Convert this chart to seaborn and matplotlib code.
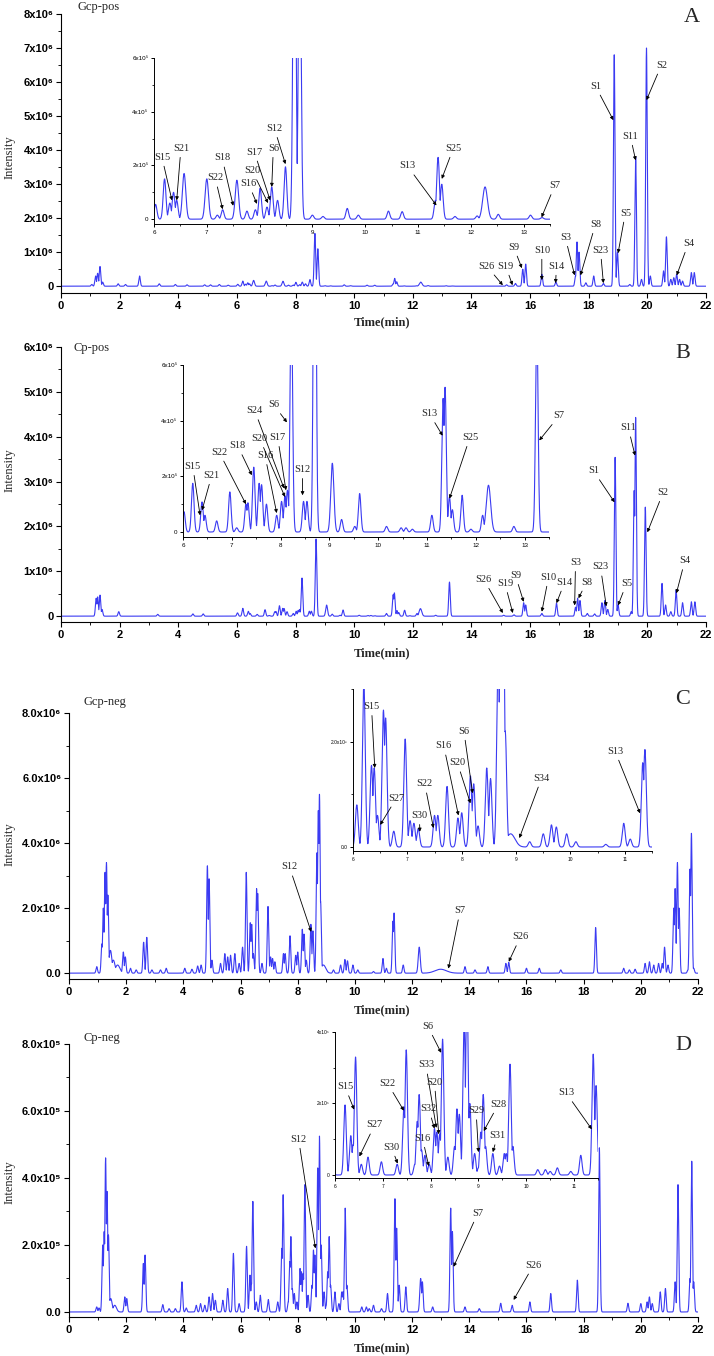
import numpy as np
import matplotlib
matplotlib.use("Agg")
import matplotlib.pyplot as plt
import seaborn as sns
from matplotlib.ticker import MultipleLocator, FixedLocator

sns.set_style("ticks")
plt.rcParams["font.family"] = ["Liberation Sans", "DejaVu Sans"]
SERIF = ["Liberation Serif", "DejaVu Serif"]
BLUE = "#3b3bf2"
W, H = 714, 1356

# ---- peak tables: retention time (min) / apex intensity ----
# A  Gcp-pos  (x1e6)
gcp_pos_rt = [1.05, 1.18, 1.25, 1.33, 1.42, 1.95, 2.2, 2.68, 3.35, 3.9, 4.3, 4.9, 5.1, 5.4, 5.7,
              6.03, 6.2, 6.3, 6.37, 6.43, 6.57, 7.0, 7.2, 7.3, 7.57, 7.76, 7.92, 8.01, 8.14, 8.23, 8.34,
              8.49, 8.66, 8.76, 9.0, 9.2, 9.66, 9.87, 10.44, 10.7, 11.33, 11.38, 11.45, 11.7, 12.12,
              12.27, 12.52, 13.13, 13.35,
              15.2, 15.5, 15.75, 15.85, 16.4, 16.88, 17.55, 17.6, 17.67, 17.9, 18.17, 18.5, 18.87,
              18.98, 19.4, 19.6, 19.8, 19.97, 20.1, 20.55, 20.65, 20.8, 20.9, 21.0, 21.1, 21.2, 21.5, 21.6]
gcp_pos_int = [0.05, 0.3, 0.38, 0.58, 0.12, 0.07, 0.05, 0.3, 0.07, 0.05, 0.04, 0.04, 0.04, 0.05, 0.03,
               0.055, 0.15, 0.06, 0.1, 0.07, 0.17, 0.15, 0.015, 0.035, 0.145, 0.03, 0.035, 0.115, 0.045,
               0.12, 0.07, 0.195, 1.55, 1.1, 0.015, 0.01, 0.04, 0.015, 0.03, 0.028, 0.07, 0.23, 0.13,
               0.01, 0.012, 0.12, 0.018, 0.015, 0.006,
               0.04, 0.08, 0.5, 0.65, 0.35, 0.12, 0.3, 1.3, 1.0, 0.1, 0.3, 0.08, 6.8, 1.0, 0.05, 3.8,
               0.2, 7.0, 0.3, 0.45, 1.45, 0.2, 0.25, 0.35, 0.2, 0.15, 0.4, 0.4]
gcp_pos_broad = {12.27: 0.045, 6.57: 0.032, 7.0: 0.032, 7.57: 0.032}

# B  Cp-pos  (x1e6)
cp_pos_rt = [1.2, 1.25, 1.33, 1.4, 1.97, 3.3, 4.5, 4.85,
             6.02, 6.2, 6.39, 6.45, 6.69, 6.96, 7.1, 7.29, 7.33, 7.45, 7.56, 7.61, 7.71, 7.92, 8.02,
             8.09, 8.14, 8.22, 8.47, 8.54, 8.7, 9.06, 9.25, 9.52, 9.62, 10.17, 10.47, 10.57, 10.7, 11.1,
             11.33, 11.37, 11.46, 11.52, 11.72, 11.9, 12.14, 12.26, 12.78, 13.25,
             15.1, 15.45, 15.78, 15.85, 16.4, 16.9, 17.55, 17.62, 17.7, 17.95, 18.2, 18.45, 18.55,
             18.65, 18.9, 19.0, 19.45, 19.55, 19.6, 19.93, 20.5, 20.62, 20.8, 20.98, 21.2, 21.5, 21.62]
cp_pos_int = [0.4, 0.43, 0.47, 0.15, 0.1, 0.04, 0.05, 0.05,
              0.073, 0.175, 0.108, 0.06, 0.04, 0.144, 0.015, 0.1, 0.105, 0.233, 0.175, 0.17, 0.1, 0.06,
              0.11, 0.13, 0.15, 0.85, 0.11, 0.11, 1.72, 0.247, 0.045, 0.02, 0.138, 0.02, 0.015, 0.015,
              0.01, 0.06, 0.48, 0.52, 0.125, 0.08, 0.132, 0.01, 0.06, 0.168, 0.02, 0.76,
              0.02, 0.03, 0.3, 0.25, 0.06, 0.29, 0.2, 0.4, 0.35, 0.06, 0.05, 0.3, 0.35, 0.15, 3.54,
              0.25, 0.1, 2.8, 4.43, 2.43, 0.73, 0.25, 0.1, 0.58, 0.3, 0.32, 0.32]
cp_pos_broad = {12.26: 0.045, 9.06: 0.032}

# C  Gcp-neg  (x1e6)
gcp_neg_rt = [0.97, 1.15, 1.2, 1.26, 1.31, 1.36, 1.45, 1.55, 1.7, 1.9, 1.97, 2.15, 2.35, 2.61, 2.72,
              2.9, 3.2, 3.4, 4.05, 4.3, 4.5, 4.62, 4.84, 4.9, 5.0, 5.3, 5.45, 5.55, 5.65, 5.8, 5.95,
              6.07, 6.2, 6.34, 6.39, 6.45, 6.56, 6.6, 6.75, 6.96, 7.05, 7.12, 7.2, 7.5, 7.56, 7.73, 7.93,
              8.0, 8.16, 8.22, 8.3, 8.46, 8.53, 8.67, 8.72, 8.76, 8.8, 8.9, 9.25, 9.5, 9.65, 9.74, 9.93,
              10.1, 10.65, 10.98, 11.1, 11.33, 11.37, 11.69, 12.25, 13.0, 13.85, 14.2, 14.65, 15.28,
              15.38, 16.0, 16.45, 17.2, 18.42, 19.4, 19.6, 19.8, 20.15, 20.3, 20.45, 20.62, 20.75,
              20.83, 20.95, 21.15, 21.2, 21.28, 21.34, 21.65, 21.72, 21.77, 21.85]
gcp_neg_int = [0.2, 0.9, 2.0, 3.1, 3.4, 2.4, 0.7, 0.4, 0.25, 0.65, 0.5, 0.15, 0.1, 0.95, 1.1,
               0.1, 0.1, 0.15, 0.15, 0.12, 0.22, 0.25, 3.3, 2.9, 0.4, 0.3, 0.6, 0.5, 0.55, 0.6, 0.3,
               0.8, 3.1, 1.55, 1.5, 0.6, 2.6, 2.45, 0.3, 2.05, 0.5, 0.45, 0.35, 0.6, 0.6, 1.15, 0.55,
               0.65, 1.35, 1.2, 0.4, 1.5, 1.3, 3.7, 5.0, 5.5, 2.2, 0.25, 0.1, 0.25, 0.42, 0.38, 0.25,
               0.1, 0.05, 0.45, 0.15, 1.6, 1.85, 0.25, 0.8, 0.12, 0.2, 0.1, 0.2, 0.3,
               0.33, 0.15, 0.15, 0.1, 1.4, 0.15, 0.1, 0.12, 0.3, 0.35, 0.25, 0.3, 0.3,
               0.8, 0.25, 2.0, 2.6, 3.4, 2.0, 0.1, 3.2, 4.3, 0.15]
gcp_neg_broad = {1.45: 0.05, 1.55: 0.06, 1.7: 0.08, 8.9: 0.08, 12.25: 0.035, 13.0: 0.2}

# D  Cp-neg  (x1e5)
cp_neg_rt = [0.97, 1.05, 1.18, 1.23, 1.28, 1.33, 1.38, 1.46, 1.6, 1.95, 2.02, 2.6, 2.66, 3.28, 3.5,
             3.72, 3.95, 4.1, 4.45, 4.6, 4.75, 4.9, 5.02, 5.12, 5.38, 5.55, 5.75, 5.95,
             6.21, 6.33, 6.38, 6.43, 6.55, 6.69, 6.97, 7.3, 7.44, 7.49, 7.67, 7.72, 7.76, 7.81, 7.88,
             7.97, 8.08, 8.13, 8.19, 8.25, 8.36, 8.5, 8.55, 8.6, 8.7, 8.76, 8.82, 8.92, 9.0, 9.05, 9.1,
             9.15, 9.3, 9.44, 9.54, 9.58, 9.66, 9.72, 10.24, 10.4, 10.5, 10.65, 10.93, 11.14, 11.4,
             11.46, 11.55, 11.78, 12.3, 12.36, 12.72, 13.35, 13.41, 13.85, 14.35, 15.1, 15.5, 16.12,
             16.85, 17.78, 18.55, 19.55, 20.0, 20.22, 20.3, 20.4, 20.68, 20.86, 21.2, 21.3, 21.72,
             21.78, 21.85]
cp_neg_int = [0.15, 0.12, 2.0, 2.4, 4.6, 3.6, 2.3, 0.4, 0.2, 0.45, 0.4, 1.45, 1.7, 0.22, 0.1,
              0.1, 0.9, 0.12, 0.2, 0.25, 0.2, 0.45, 0.55, 0.35, 0.35, 0.7, 1.75, 0.25,
              1.96, 1.1, 0.85, 3.3, 0.3, 0.5, 0.37, 0.3, 1.9, 3.5, 0.3, 1.5, 2.25, 0.7, 0.55,
              0.3, 1.3, 1.2, 1.15, 3.8, 0.5, 0.8, 1.85, 1.7, 4.3, 5.25, 2.0, 0.6, 0.2, 1.2, 2.25,
              0.8, 0.6, 0.25, 0.6, 0.6, 3.1, 0.8, 0.15, 0.15, 0.1, 0.2, 0.1, 0.55, 3.38,
              2.5, 0.8, 0.75, 1.0, 0.9, 0.15, 3.1, 2.4, 0.15, 0.1, 0.26, 0.2, 0.3,
              0.55, 0.95, 4.9, 0.26, 0.25, 0.3, 0.45, 0.25, 0.6, 0.7, 0.9, 3.8, 1.0,
              4.5, 0.9]
cp_neg_broad = {1.46: 0.05, 1.6: 0.06, 12.3: 0.032}

# ---- peak labels: name, arrow tip (t, I), label centre (t, I) in the units above ----
a_main = [("S1", (18.84, 4.88), (18.23, 5.88)), ("S2", (19.97, 5.47), (20.48, 6.5)),
          ("S11", (19.6, 3.7), (19.42, 4.41)), ("S5", (19.0, 0.97), (19.25, 2.15)),
          ("S8", (17.72, 0.32), (18.23, 1.82)), ("S3", (17.52, 0.32), (17.2, 1.44)),
          ("S23", (18.5, 0.09), (18.4, 1.06)), ("S4", (21.0, 0.32), (21.4, 1.26)),
          ("S9", (15.72, 0.53), (15.44, 1.15)), ("S10", (16.4, 0.18), (16.4, 1.06)),
          ("S14", (16.87, 0.09), (16.9, 0.59)), ("S26", (15.07, 0.03), (14.52, 0.59)),
          ("S19", (15.4, 0.03), (15.17, 0.59))]
a_inset = [("S15", (6.34, 0.7), (6.15, 2.31)), ("S21", (6.43, 0.7), (6.51, 2.64)),
           ("S22", (7.3, 0.37), (7.16, 1.54)), ("S18", (7.5, 0.5), (7.29, 2.28)),
           ("S16", (7.95, 0.57), (7.79, 1.32)), ("S20", (8.16, 0.6), (7.86, 1.8)),
           ("S17", (8.2, 0.7), (7.9, 2.5)), ("S6", (8.23, 1.2), (8.26, 2.64)),
           ("S12", (8.49, 2.05), (8.28, 3.38)), ("S13", (11.35, 0.51), (10.8, 1.98)),
           ("S25", (11.45, 1.5), (11.67, 2.64)), ("S7", (13.34, 0.07), (13.59, 1.25))]
b_main = [("S1", (18.88, 2.54), (18.16, 3.24)), ("S11", (19.58, 3.58), (19.35, 4.2)),
          ("S2", (20.0, 1.87), (20.54, 2.76)), ("S4", (20.99, 0.51), (21.28, 1.24)),
          ("S5", (19.0, 0.24), (19.29, 0.73)), ("S23", (18.6, 0.22), (18.4, 1.1)),
          ("S8", (17.65, 0.4), (17.93, 0.76)), ("S3", (17.52, 0.24), (17.55, 1.2)),
          ("S14", (16.9, 0.29), (17.18, 0.76)), ("S10", (16.4, 0.1), (16.63, 0.87)),
          ("S9", (15.78, 0.32), (15.5, 0.91)), ("S19", (15.41, 0.07), (15.14, 0.73)),
          ("S26", (15.07, 0.07), (14.42, 0.82))]
b_inset = [("S15", (6.35, 0.6), (6.2, 2.36)), ("S21", (6.39, 0.78), (6.59, 2.04)),
           ("S22", (7.29, 1.0), (6.74, 2.87)), ("S18", (7.41, 2.04), (7.12, 3.1)),
           ("S16", (7.92, 0.68), (7.68, 2.75)), ("S20", (8.09, 1.26), (7.57, 3.36)),
           ("S17", (8.11, 1.5), (7.94, 3.4)), ("S24", (8.07, 1.57), (7.47, 4.36)),
           ("S6", (8.13, 3.94), (7.86, 4.57)), ("S12", (8.45, 1.32), (8.45, 2.25)),
           ("S13", (11.32, 3.46), (11.05, 4.25)), ("S25", (11.46, 1.2), (11.88, 3.4)),
           ("S7", (13.3, 3.29), (13.71, 4.18))]
c_main = [("S12", (8.47, 1.27), (7.71, 3.27)), ("S7", (13.27, 0.14), (13.68, 1.92)),
          ("S26", (15.38, 0.35), (15.79, 1.12))]
c_inset = [("S15", (6.4, 1.5), (6.34, 2.67)), ("S27", (6.5, 0.42), (6.8, 0.93)),
           ("S30", (7.23, 0.29), (7.22, 0.6)), ("S22", (7.48, 0.36), (7.32, 1.2)),
           ("S16", (7.94, 0.6), (7.67, 1.92)), ("S20", (8.16, 0.83), (7.92, 1.6)),
           ("S6", (8.2, 1.02), (8.04, 2.2)), ("S34", (9.06, 0.17), (9.47, 1.31)),
           ("S13", (11.28, 0.64), (10.82, 1.82))]
d_main = [("S12", (8.62, 1.9), (8.03, 5.16)), ("S7", (13.45, 1.35), (14.3, 2.95)),
          ("S26", (15.55, 0.36), (16.25, 1.4))]
d_inset = [("S15", (6.4, 1.83), (6.21, 2.47)), ("S27", (6.51, 0.52), (6.83, 1.4)),
           ("S30", (7.31, 0.32), (7.18, 0.78)), ("S22", (7.44, 1.8), (7.1, 2.56)),
           ("S16", (7.96, 0.25), (7.83, 1.03)), ("S33", (8.12, 1.32), (7.9, 3.08)),
           ("S20", (8.17, 1.14), (8.08, 2.6)), ("S32", (8.08, 1.3), (7.96, 1.85)),
           ("S6", (8.22, 3.42), (7.94, 4.16)), ("S29", (9.0, 0.64), (8.95, 1.8)),
           ("S28", (9.11, 1.23), (9.42, 1.98)), ("S31", (9.3, 0.64), (9.4, 1.1)),
           ("S13", (11.37, 1.28), (10.83, 2.3))]

t = np.linspace(0, 22, 8801)


def trace(rt, height, broad, scale, sigma=0.026):
    assert len(rt) == len(height)
    y = np.zeros_like(t)
    for r, h in zip(rt, height):
        s = broad.get(r, sigma)
        y = np.maximum(y, h * scale * np.exp(-0.5 * ((t - r) / s) ** 2))
    return y


def px_rect(left, top, right, bottom):
    return [left / W, 1 - bottom / H, (right - left) / W, (bottom - top) / H]


ARROW = dict(arrowstyle="-|>", color="black", lw=0.6, mutation_scale=5, shrinkA=1, shrinkB=0)


def label_peaks(ax, table, scale, size=7.5):
    for name, (tx, ty), (lx, ly) in table:
        ax.annotate(name, xy=(tx, ty * scale), xytext=(lx, ly * scale), ha="center", va="center",
                    fontsize=size, family=SERIF, annotation_clip=False, arrowprops=ARROW)


def style(ax, major_len=3.5, minor_len=2, width=0.8):
    sns.despine(ax=ax)
    for s in ("left", "bottom"):
        ax.spines[s].set_linewidth(width)
        ax.spines[s].set_color("black")
    ax.tick_params(which="major", direction="out", length=major_len, width=width, colors="black", pad=2)
    ax.tick_params(which="minor", direction="out", length=minor_len, width=width * 0.8, colors="black")
    ax.grid(False)


fig = plt.figure(figsize=(W / 100, H / 100), dpi=100)
fig.patch.set_facecolor("white")

panels = [
    dict(y=trace(gcp_pos_rt, gcp_pos_int, gcp_pos_broad, 1e6), rect=(61, 14, 706, 293),
         ylim=(-0.2e6, 8e6), yt=np.arange(0, 9) * 1e6, ym=0.5e6,
         ylab=["0"] + ["%dx10⁶" % k for k in range(1, 9)],
         inset=(154, 58, 550, 224), ixlim=(6, 13.5), iylim=(-0.18e5, 6e5),
         iyt=[0, 2e5, 4e5, 6e5], iylab=["0", "2x10⁵", "4x10⁵", "6x10⁵"], iym=1e5, ifs=4.5,
         main=a_main, ins=a_inset, mscale=1e6, iscale=1e5,
         name="Gcp-pos", name_xy=(77, 7), tag="A", tag_xy=(692, 18), ylab_xy=(10, 157), xlab_y=322),
    dict(y=trace(cp_pos_rt, cp_pos_int, cp_pos_broad, 1e6), rect=(61, 347, 706, 622),
         ylim=(-0.13e6, 6e6), yt=np.arange(0, 7) * 1e6, ym=0.5e6,
         ylab=["0"] + ["%dx10⁶" % k for k in range(1, 7)],
         inset=(183, 365, 549, 537), ixlim=(6, 13.5), iylim=(-0.18e5, 6e5),
         iyt=[0, 2e5, 4e5, 6e5], iylab=["0", "2x10⁵", "4x10⁵", "6x10⁵"], iym=1e5, ifs=4.5,
         main=b_main, ins=b_inset, mscale=1e6, iscale=1e5,
         name="Cp-pos", name_xy=(73, 348), tag="B", tag_xy=(683, 353), ylab_xy=(10, 470), xlab_y=653),
    dict(y=trace(gcp_neg_rt, gcp_neg_int, gcp_neg_broad, 1e6), rect=(69, 713, 698, 979),
         ylim=(-0.18e6, 8e6), yt=np.arange(0, 9, 2) * 1e6, ym=1e6,
         ylab=["0.0"] + ["%.1fx10⁶" % k for k in range(2, 9, 2)],
         inset=(353, 689, 652, 851), ixlim=(6, 11.5), iylim=(-0.076e6, 3e6),
         iyt=[0, 2e6], iylab=["0.0", "2.0x10⁶"], iym=1e6, ifs=3.5,
         main=c_main, ins=c_inset, mscale=1e6, iscale=1e6,
         name="Gcp-neg", name_xy=(83, 702), tag="C", tag_xy=(683, 700), ylab_xy=(10, 844), xlab_y=1010),
    dict(y=trace(cp_neg_rt, cp_neg_int, cp_neg_broad, 1e5), rect=(69, 1044, 698, 1317),
         ylim=(-0.15e5, 8e5), yt=np.arange(0, 9, 2) * 1e5, ym=1e5,
         ylab=["0.0"] + ["%.1fx10⁵" % k for k in range(2, 9, 2)],
         inset=(335, 1032, 598, 1178), ixlim=(6, 11.5), iylim=(-0.084e5, 4e5),
         iyt=[0, 2e5, 4e5], iylab=["0", "2x10⁵", "4x10⁵"], iym=1e5, ifs=3.5,
         main=d_main, ins=d_inset, mscale=1e5, iscale=1e5,
         name="Cp-neg", name_xy=(83, 1038), tag="D", tag_xy=(683, 1045), ylab_xy=(10, 1182), xlab_y=1348),
]

for p in panels:
    ax = fig.add_axes(px_rect(*p["rect"]))
    ax.set_facecolor("none")
    sns.lineplot(x=t, y=p["y"], ax=ax, color=BLUE, linewidth=0.8, estimator=None)
    ax.set_xlim(0, 22)
    ax.set_ylim(*p["ylim"])
    ax.xaxis.set_major_locator(FixedLocator(np.arange(0, 23, 2)))
    ax.xaxis.set_minor_locator(MultipleLocator(1))
    ax.set_xticklabels([str(v) for v in range(0, 23, 2)], fontsize=8, fontweight="bold")
    ax.yaxis.set_major_locator(FixedLocator(p["yt"]))
    ax.yaxis.set_minor_locator(MultipleLocator(p["ym"]))
    ax.set_yticklabels(p["ylab"], fontsize=8, fontweight="bold")
    ax.set_xlabel("")
    ax.set_ylabel("")
    style(ax)
    label_peaks(ax, p["main"], p["mscale"])

    ia = fig.add_axes(px_rect(*p["inset"]))
    ia.set_facecolor("none")
    sns.lineplot(x=t, y=p["y"], ax=ia, color=BLUE, linewidth=0.8, estimator=None)
    ia.set_xlim(*p["ixlim"])
    ia.set_ylim(*p["iylim"])
    xs = list(range(6, int(p["ixlim"][1]) + 1))
    ia.xaxis.set_major_locator(FixedLocator(xs))
    ia.xaxis.set_minor_locator(MultipleLocator(0.5))
    ia.set_xticklabels([str(v) for v in xs], fontsize=p["ifs"])
    ia.yaxis.set_major_locator(FixedLocator(p["iyt"]))
    ia.yaxis.set_minor_locator(MultipleLocator(p["iym"]))
    ia.set_yticklabels(p["iylab"], fontsize=p["ifs"])
    ia.set_xlabel("")
    ia.set_ylabel("")
    style(ia, major_len=2.5, minor_len=1.5, width=0.7)
    ia.tick_params(pad=1.5)
    label_peaks(ia, p["ins"], p["iscale"])

    fig.text(p["name_xy"][0] / W, 1 - p["name_xy"][1] / H, p["name"], family=SERIF,
             fontsize=9, ha="left", va="center")
    fig.text(p["tag_xy"][0] / W, 1 - p["tag_xy"][1] / H, p["tag"], family=SERIF,
             fontsize=16, ha="center", va="center")
    fig.text(p["ylab_xy"][0] / W, 1 - p["ylab_xy"][1] / H, "Intensity", family=SERIF,
             fontsize=9, rotation=90, ha="center", va="center")
    fig.text(382 / W, 1 - p["xlab_y"] / H, "Time(min)", family=SERIF, fontsize=9,
             fontweight="bold", ha="center", va="center")

fig.savefig("out.png", dpi=100)
